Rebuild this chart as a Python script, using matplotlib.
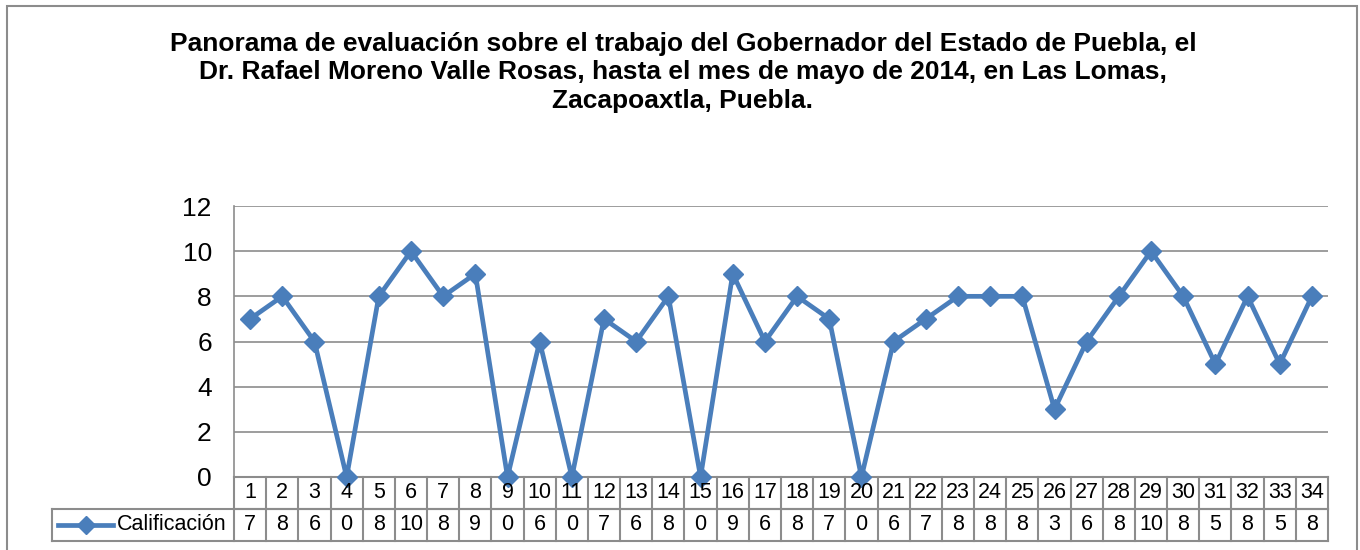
import matplotlib.pyplot as plt
from matplotlib.transforms import blended_transform_factory
from matplotlib.patches import Rectangle
from matplotlib.lines import Line2D

plt.rcParams['font.family'] = ['Liberation Sans', 'DejaVu Sans']

# data
encuesta = list(range(1, 35))
calificacion = [7, 8, 6, 0, 8, 10, 8, 9, 0, 6, 0, 7, 6, 8, 0, 9, 6, 8, 7, 0,
                6, 7, 8, 8, 8, 3, 6, 8, 10, 8, 5, 8, 5, 8]
serie = "Calificación"
titulo = ("Panorama de evaluación sobre el trabajo del Gobernador del Estado de Puebla, el\n"
          "Dr. Rafael Moreno Valle Rosas, hasta el mes de mayo de 2014, en Las Lomas,\n"
          "Zacapoaxtla, Puebla.")

W, H = 1360, 550
azul = '#4A7EBB'
gris = '#8C8C8C'

fig = plt.figure(figsize=(W / 100, H / 100), dpi=100)

# chart border
fig.patches.append(Rectangle((7 / W, -0.1), (1357 - 7) / W, 1.1 - 6 / H,
                             transform=fig.transFigure, fill=False,
                             edgecolor=gris, lw=1.5))

fig.text(683 / W, 1 - 32 / H, titulo, ha='center', va='top', fontsize=19,
         fontweight='bold', linespacing=1.23)

x0, x1, ytop, ybot = 234, 1328, 206, 477
ax = fig.add_axes([x0 / W, 1 - ybot / H, (x1 - x0) / W, (ybot - ytop) / H])
ax.plot(encuesta, calificacion, color=azul, lw=3.4, marker='D', markersize=10,
        zorder=3, clip_on=False)
ax.set_xlim(0.5, len(encuesta) + 0.5)
ax.set_ylim(0, 12)
ax.set_yticks(range(0, 13, 2))
ax.tick_params(axis='y', length=0, labelsize=19, pad=16)
ax.set_xticks([])
ax.grid(axis='y', color=gris, lw=1.2)
for s in ['top', 'right', 'bottom']:
    ax.spines[s].set_visible(False)
ax.spines['left'].set_color(gris)
ax.spines['left'].set_linewidth(1.2)

# data table below the axis
ah = ybot - ytop
r1 = -32 / ah
r2 = -64 / ah
tr = blended_transform_factory(ax.transData, ax.transAxes)
leg_left = (52 - x0) / (x1 - x0)

def hline(xa, xb, y, t):
    ax.add_line(Line2D([xa, xb], [y, y], transform=t, color=gris, lw=1.5, clip_on=False))

def vline(x, ya, yb, t):
    ax.add_line(Line2D([x, x], [ya, yb], transform=t, color=gris, lw=1.5, clip_on=False))

hline(0, 1, 0, ax.transAxes)
hline(0, 1, r1, ax.transAxes)
hline(leg_left, 1, r1, ax.transAxes)
hline(leg_left, 1, r2, ax.transAxes)
vline(leg_left, r1, r2, ax.transAxes)
for k in range(len(encuesta) + 1):
    vline(0.5 + k, 0, r2, tr)

for xi, v in zip(encuesta, calificacion):
    ax.text(xi, r1 / 2, str(xi), transform=tr, ha='center', va='center', fontsize=15.5)
    ax.text(xi, (r1 + r2) / 2, str(v), transform=tr, ha='center', va='center', fontsize=15.5)

# legend key in the table
ym = (r1 + r2) / 2
lk0 = (58 - x0) / (x1 - x0)
lk1 = (113 - x0) / (x1 - x0)
ax.add_line(Line2D([lk0, lk1], [ym, ym], transform=ax.transAxes, color=azul, lw=3.4,
                   clip_on=False))
ax.add_line(Line2D([(lk0 + lk1) / 2], [ym], transform=ax.transAxes, color=azul,
                   marker='D', markersize=9, clip_on=False))
ax.text((117 - x0) / (x1 - x0), ym, serie, transform=ax.transAxes, ha='left',
        va='center', fontsize=15.5)

fig.savefig('out.png', dpi=100)
